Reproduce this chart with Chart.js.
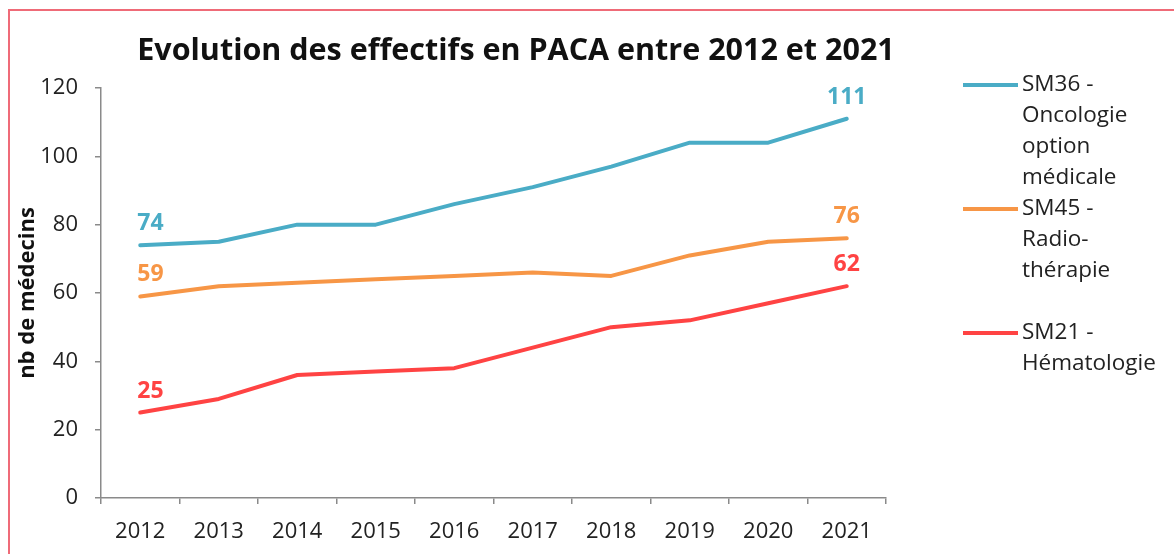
<!DOCTYPE html>
<html lang="fr">
<head>
<meta charset="utf-8">
<title>Evolution des effectifs en PACA entre 2012 et 2021</title>
<script src="https://cdn.jsdelivr.net/npm/chart.js@4.4.1/dist/chart.umd.min.js"></script>
<style>
    html, body { margin: 0; padding: 0; background: #fff; }
    #wrap { position: relative; width: 1174px; height: 554px; overflow: hidden; }
    #cadre {
        position: absolute; left: 8px; top: 9px; width: 1200px; height: 600px;
        border-left: 2px solid #ef6b78; border-top: 2px solid #ef6b78;
        pointer-events: none;
    }
    #titre {
        position: absolute; left: 116px; width: 800px; top: 33px;
        text-align: center; font-family: 'Open Sans', sans-serif;
        font-weight: bold; font-size: 30.5px; line-height: 1; color: #111;
        white-space: nowrap;
    }
</style>
</head>
<body>
<div id="wrap">
    <canvas id="graphique" width="1174" height="554"></canvas>
    <div id="titre">Evolution des effectifs en PACA entre 2012 et 2021</div>
    <div id="cadre"></div>
</div>
<script>
// Données
const annees = ['2012', '2013', '2014', '2015', '2016', '2017', '2018', '2019', '2020', '2021'];
const oncologie = [74, 75, 80, 80, 86, 91, 97, 104, 104, 111];
const radiotherapie = [59, 62, 63, 64, 65, 66, 65, 71, 75, 76];
const hematologie = [25, 29, 36, 37, 38, 44, 50, 52, 57, 62];
const nomsSeries = [
    ['SM36 -', 'Oncologie', 'option', 'médicale'],
    ['SM45 -', 'Radio-', 'thérapie'],
    ['SM21 -', 'Hématologie']
];
const ticksY = [0, 20, 40, 60, 80, 100, 120];

const cores = ['#4aacc6', '#f79646', '#ff4343'];
const police = "'Open Sans', sans-serif";
const gris = '#8a8a8a';

// Étiquettes de la première et de la dernière valeur
const etiquettesPlugin = {
    id: 'etiquettes',
    afterDatasetsDraw(chart) {
        const ctx = chart.ctx;
        ctx.save();
        ctx.font = `bold 23px ${police}`;
        ctx.textBaseline = 'alphabetic';
        chart.data.datasets.forEach((ds, i) => {
            const meta = chart.getDatasetMeta(i);
            const premier = meta.data[0];
            const dernier = meta.data[meta.data.length - 1];
            ctx.fillStyle = cores[i];
            ctx.textAlign = 'left';
            ctx.fillText(String(ds.data[0]), premier.x - 3, premier.y - 15);
            ctx.textAlign = 'center';
            ctx.fillText(String(ds.data[ds.data.length - 1]), dernier.x, dernier.y - 15);
        });
        ctx.restore();
    }
};

// Légende à droite, texte sur plusieurs lignes
const legendePlugin = {
    id: 'legende',
    afterDraw(chart) {
        const ctx = chart.ctx;
        const area = chart.chartArea;
        const x0 = area.right + 77;
        const y0 = area.top - 3;
        const interligne = 31;
        ctx.save();
        ctx.font = `22.5px ${police}`;
        ctx.textBaseline = 'middle';
        ctx.textAlign = 'left';
        nomsSeries.forEach((lignes, i) => {
            const y = y0 + i * 4 * interligne;
            ctx.strokeStyle = cores[i];
            ctx.lineWidth = 4;
            ctx.beginPath();
            ctx.moveTo(x0, y);
            ctx.lineTo(x0 + 55, y);
            ctx.stroke();
            ctx.fillStyle = '#222';
            lignes.forEach((t, j) => ctx.fillText(t, x0 + 59, y + j * interligne));
        });
        ctx.restore();
    }
};

const serie = (label, data, cor) => ({
    label: label,
    data: data,
    borderColor: cor,
    backgroundColor: cor,
    borderWidth: 4,
    borderCapStyle: 'round',
    borderJoinStyle: 'round',
    pointRadius: 0,
    tension: 0
});

const ctx = document.getElementById('graphique').getContext('2d');
new Chart(ctx, {
    type: 'line',
    data: {
        labels: annees,
        datasets: [
            serie(nomsSeries[0].join(' '), oncologie, cores[0]),
            serie(nomsSeries[1].join(' '), radiotherapie, cores[1]),
            serie(nomsSeries[2].join(' '), hematologie, cores[2])
        ]
    },
    options: {
        responsive: false,
        animation: false,
        layout: { padding: { left: 11, right: 288, top: 88, bottom: 0 } },
        plugins: {
            legend: { display: false },
            tooltip: { enabled: false },
            title: { display: false }
        },
        scales: {
            x: {
                offset: true,
                grid: { offset: true, drawOnChartArea: false, color: gris, tickLength: 6, lineWidth: 1.5 },
                border: { color: gris, width: 1.5 },
                ticks: { color: '#222', font: { family: police, size: 22 }, padding: 15, maxRotation: 0 },
                afterFit: (s) => { s.height = 56; s.paddingLeft = 0; s.paddingRight = 0; }
            },
            y: {
                min: 0,
                max: 120,
                afterBuildTicks: (s) => { s.ticks = ticksY.map(v => ({ value: v })); },
                grid: { drawOnChartArea: false, color: gris, tickLength: 6, lineWidth: 1.5 },
                border: { color: gris, width: 1.5 },
                ticks: { color: '#222', font: { family: police, size: 22 }, padding: 17 },
                title: {
                    display: true,
                    text: 'nb de médecins',
                    color: '#111',
                    font: { family: police, size: 22, weight: 'bold' },
                    padding: { top: 4, bottom: 0 }
                },
                afterFit: (s) => { s.width = 90; s.paddingTop = 0; s.paddingBottom = 0; }
            }
        }
    },
    plugins: [etiquettesPlugin, legendePlugin]
});
</script>
</body>
</html>
